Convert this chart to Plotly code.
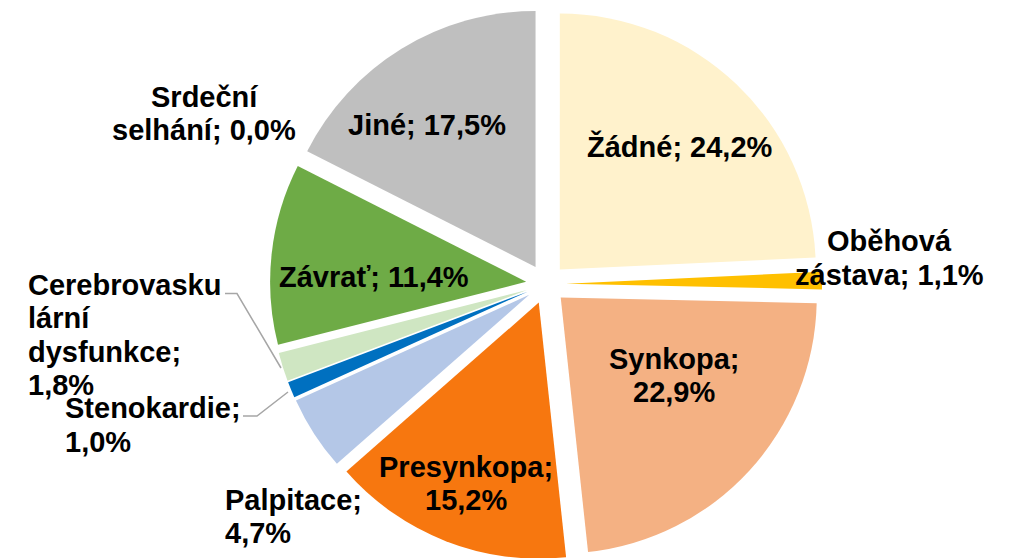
import plotly.graph_objects as go

# ---- data ----
categories = ["Žádné", "Oběhová zástava", "Synkopa", "Presynkopa", "Palpitace",
              "Stenokardie", "Cerebrovaskulární dysfunkce", "Závrať", "Jiné",
              "Srdeční selhání"]
values = [24.2, 1.1, 22.9, 15.2, 4.7, 1.0, 1.8, 11.4, 17.5, 0.0]
colors = ["#FFF2CC", "#FFC000", "#F4B183", "#F7770F", "#B4C7E7",
          "#0070C0", "#CFE6C2", "#6EAB46", "#BFBFBF", "#C00000"]

# ---- layout ----
OFF = 8            # page body margin of the browser
W, H = 1002, 552   # figure size (page offset by OFF)
wrapped_names = {"Oběhová zástava": "Oběhová|zástava",
                 "Cerebrovaskulární dysfunkce": "Cerebrovasku|lární|dysfunkce",
                 "Srdeční selhání": "Srdeční|selhání"}
value_newline = {"Synkopa", "Presynkopa", "Palpitace", "Stenokardie",
                 "Cerebrovaskulární dysfunkce"}
label_pos = {  # x, y (screen px) of first line, anchor
    "Žádné": (680, 145, "center"),
    "Oběhová zástava": (889, 240, "center"),
    "Synkopa": (674, 357, "center"),
    "Presynkopa": (466, 465, "center"),
    "Palpitace": (223, 498, "left"),
    "Stenokardie": (63, 407, "left"),
    "Cerebrovaskulární dysfunkce": (26, 283, "left"),
    "Závrať": (374, 275, "center"),
    "Jiné": (427, 123, "center"),
    "Srdeční selhání": (204, 95, "center"),
}
line_gap = 33.5
text_dy = -1.5
font = dict(family="Liberation Sans, Arial, sans-serif", size=29, color="#000000")


def px(x):
    return (x - OFF) / W


def py(y):
    return 1 - (y - OFF) / H


fig = go.Figure(go.Pie(
    labels=categories, values=values, sort=False, direction="clockwise",
    rotation=0, pull=[0.078] * len(values), textinfo="none",
    hoverinfo="label+percent",
    marker=dict(colors=colors, line=dict(width=0)), showlegend=False,
    domain=dict(x=[px(546 - 276), px(546 + 276)], y=[0, 1]),
))

annotations = []
for cat, val in zip(categories, values):
    name = wrapped_names.get(cat, cat)
    pct = f"{val:.1f}%".replace(".", ",")
    text = name + ";" + ("|" if cat in value_newline else " ") + pct
    x, y, anchor = label_pos[cat]
    for i, line in enumerate(text.split("|")):
        annotations.append(dict(
            x=px(x), y=py(y + i * line_gap - text_dy), xref="paper", yref="paper",
            text="<b>" + line + "</b>", showarrow=False, xanchor=anchor,
            yanchor="middle", font=font))

leader = dict(color="#A6A6A6", width=1.5)
leaders = [
    [(225, 293.5), (237, 293.5), (281, 368)],
    [(243, 416), (257, 416), (288, 392)],
]
shapes = []
for pts in leaders:
    path = "M " + " L ".join(f"{px(a)},{py(b)}" for a, b in pts)
    shapes.append(dict(type="path", path=path, xref="paper", yref="paper",
                       line=leader))

fig.update_layout(
    width=W, height=H, margin=dict(l=0, r=0, t=0, b=0),
    paper_bgcolor="white", plot_bgcolor="white",
    annotations=annotations, shapes=shapes,
)
fig.write_html("out.html")
